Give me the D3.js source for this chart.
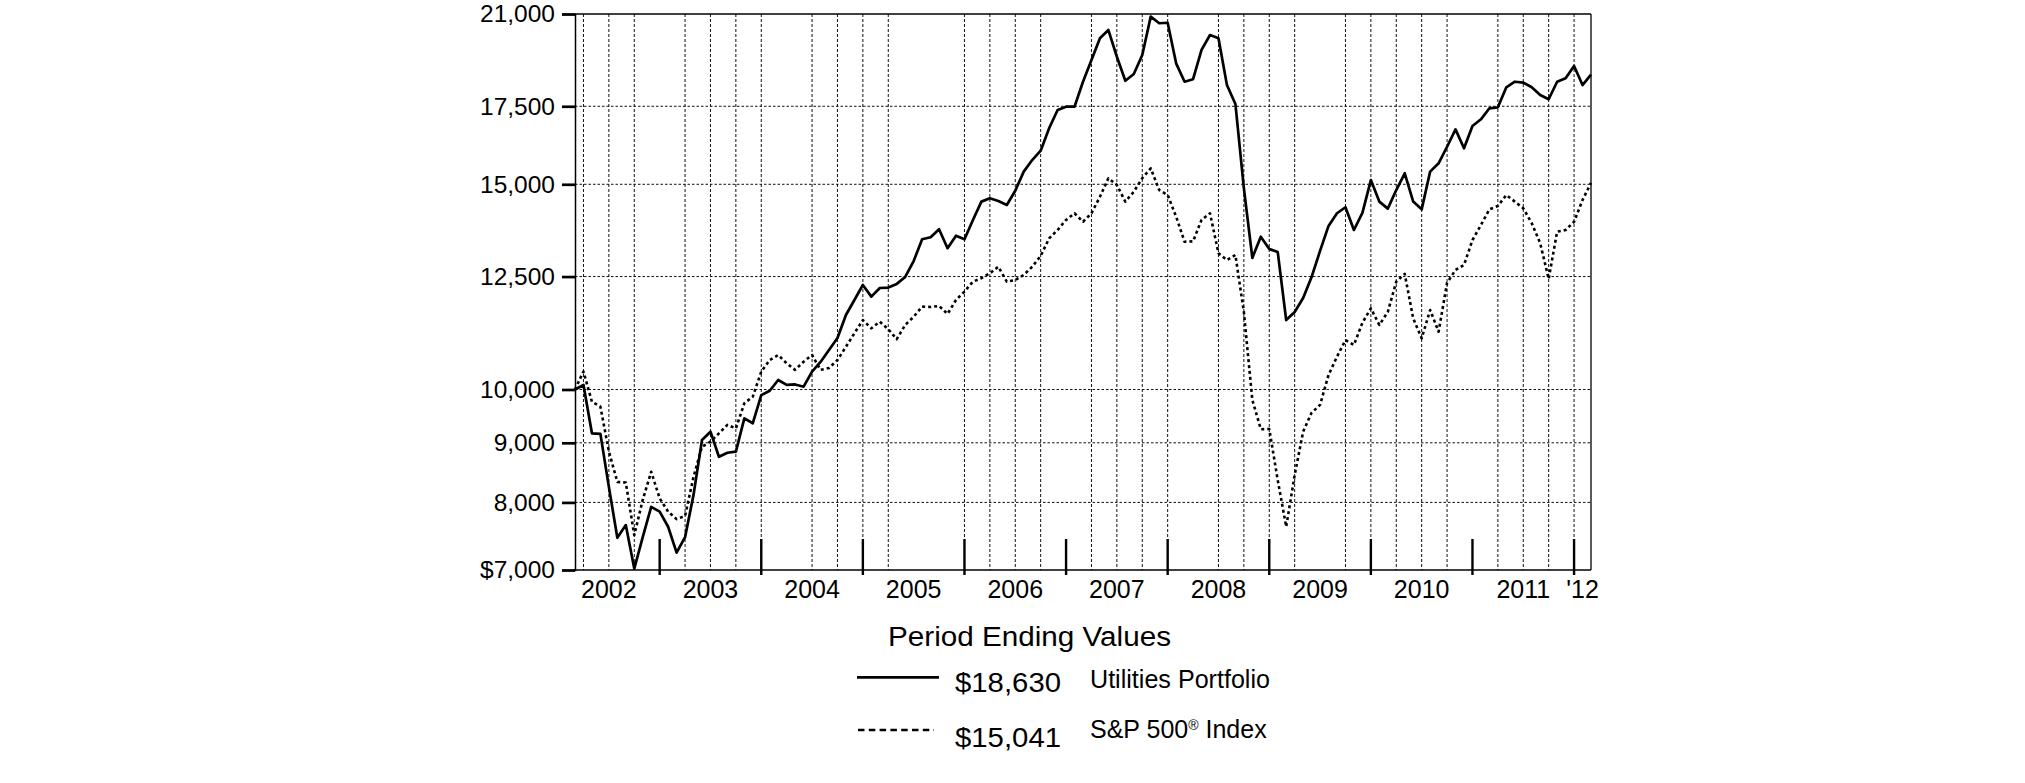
<!DOCTYPE html>
<html>
<head>
<meta charset="utf-8">
<script src="https://cdn.jsdelivr.net/npm/d3@7"></script>
<style>
  html, body { margin: 0; padding: 0; background: #fff; }
  svg { display: block; }
  text { font-family: "Liberation Sans", Arial, Helvetica, sans-serif; fill: #000; }
</style>
</head>
<body>
<svg id="chart" width="2025" height="783"></svg>
<script>
// ---- data (monthly, Feb 2002 .. Feb 2012, growth of $10,000) ----
const startMonth = "2002-02";
const utilities = [
  10000, 10090, 9170, 9160, 8250, 7460, 7650, 7020, 7470, 7930, 7855, 7625,
  7245, 7470, 8120, 9050, 9200, 8755, 8825, 8845, 9445, 9355, 9890, 9975,
  10190, 10090, 10100, 10055, 10360, 10560, 10810, 11070, 11585, 11935, 12295, 12015,
  12220, 12230, 12320, 12490, 12890, 13455, 13510, 13725, 13220, 13550, 13455, 13980,
  14495, 14590, 14515, 14400, 14810, 15380, 15735, 16030, 16755, 17370, 17485, 17490,
  18370, 19175, 20015, 20345, 19300, 18405, 18650, 19365, 20890, 20620, 20640, 19050,
  18370, 18460, 19560, 20145, 20015, 18250, 17580, 14890, 12970, 13525, 13200, 13120,
  11470, 11655, 11980, 12490, 13150, 13815, 14165, 14335, 13705, 14175, 15125, 14495,
  14295, 14830, 15330, 14495, 14275, 15380, 15635, 16155, 16720, 16105, 16830, 17055,
  17430, 17465, 18170, 18370, 18335, 18170, 17895, 17745, 18370, 18495, 18950, 18250,
  18630
];
const sp500 = [
  10000, 10360, 9760, 9665, 8850, 8330, 8320, 7500, 8040, 8500, 8065, 7855,
  7740, 7790, 8415, 8930, 9020, 9170, 9325, 9260, 9730, 9860, 10360, 10600,
  10705, 10530, 10395, 10565, 10705, 10395, 10435, 10600, 10880, 11175, 11470, 11285,
  11435, 11265, 11045, 11360, 11545, 11780, 11770, 11795, 11610, 11935, 12135, 12375,
  12460, 12580, 12745, 12375, 12415, 12540, 12745, 13020, 13480, 13705, 13980, 14165,
  13930, 14165, 14635, 15180, 14980, 14495, 14780, 15180, 15480, 14830, 14685, 14070,
  13390, 13400, 13980, 14165, 13090, 12915, 13045, 11655, 9795, 9245, 9250, 8360,
  7625, 8445, 9200, 9550, 9700, 10290, 10670, 11025, 10920, 11410, 11740, 11360,
  11655, 12375, 12565, 11510, 11065, 11700, 11210, 12345, 12665, 12790, 13435, 13840,
  14275, 14370, 14685, 14495, 14305, 13890, 13350, 12440, 13660, 13705, 13930, 14540,
  15041
];
const seriesNames = ["Utilities Portfolio", "S&P 500"];
const endValues = ["$18,630", "$15,041"];
const yTickValues = [7000, 8000, 9000, 10000, 12500, 15000, 17500, 21000];
const yGridValues = [8000, 9000, 10000, 12500, 15000, 17500];
const yearLabels = ["2002", "2003", "2004", "2005", "2006", "2007", "2008", "2009", "2010", "2011", "'12"];
const yearLabelMonths = ["2002-06", "2003-06", "2004-06", "2005-06", "2006-06", "2007-06", "2008-06", "2009-06", "2010-06", "2011-06", "2012-01"];
const yearEndMonths = ["2002-12", "2003-12", "2004-12", "2005-12", "2006-12", "2007-12", "2008-12", "2009-12", "2010-12", "2011-12"];
const gridMonths = [
  "2002-03", "2002-06", "2002-09", "2003-03", "2003-06", "2003-09", "2003-12",
  "2004-06", "2004-09", "2004-12", "2005-03", "2005-12",
  "2006-03", "2006-06", "2006-09", "2007-03", "2007-06", "2007-09", "2007-12",
  "2008-06", "2008-09", "2008-12", "2009-03", "2009-09", "2009-12",
  "2010-03", "2010-06", "2010-09", "2011-03", "2011-06", "2011-09", "2011-12"
];

// ---- helpers ----
const parseM = d3.utcParse("%Y-%m");
const t0 = parseM(startMonth);
const monthIndex = s => d3.utcMonth.count(t0, parseM(s));
const months = utilities.map((_, i) => d3.utcMonth.offset(t0, i));

// ---- layout ----
const L = 575, R = 1591, T = 14, B = 570;
const svg = d3.select("#chart");

const x = d3.scaleLinear().domain([0, utilities.length - 1]).range([L, R]);
const y = d3.scaleLog().domain([7000, 21000]).range([B, T]);

// gridlines
const g = svg.append("g");
g.selectAll("line.hg").data(yGridValues).join("line")
  .attr("x1", L).attr("x2", R)
  .attr("y1", d => y(d)).attr("y2", d => y(d))
  .attr("stroke", "#111").attr("stroke-width", 1).attr("stroke-dasharray", "2.5,2");
g.selectAll("line.vg").data(gridMonths).join("line")
  .attr("x1", d => x(monthIndex(d))).attr("x2", d => x(monthIndex(d)))
  .attr("y1", T).attr("y2", B)
  .attr("stroke", "#111").attr("stroke-width", 1).attr("stroke-dasharray", "3,2");

// frame
svg.append("line").attr("x1", L).attr("x2", R).attr("y1", T).attr("y2", T).attr("stroke", "#000").attr("stroke-width", 1.3);
svg.append("line").attr("x1", R).attr("x2", R).attr("y1", T).attr("y2", B).attr("stroke", "#000").attr("stroke-width", 1.3);

// left axis
const yAxis = d3.axisLeft(y).tickValues(yTickValues).tickSize(13).tickPadding(7)
  .tickFormat(d => (d === 7000 ? "$" : "") + d3.format(",")(d));
const ya = svg.append("g").attr("transform", `translate(${L},0)`).call(yAxis);
ya.select(".domain").attr("stroke-width", 1.5);
ya.selectAll(".tick line").attr("stroke-width", 2.7);
ya.selectAll(".tick text").attr("font-size", 24.5).attr("font-family", "Liberation Sans, Arial, sans-serif").attr("fill", "#000");

// bottom axis line
svg.append("line").attr("x1", L - 1).attr("x2", R).attr("y1", B).attr("y2", B).attr("stroke", "#000").attr("stroke-width", 1.5);

// year-end ticks
svg.selectAll("line.yt").data(yearEndMonths).join("line")
  .attr("x1", d => x(monthIndex(d))).attr("x2", d => x(monthIndex(d)))
  .attr("y1", B - 31).attr("y2", B + 5)
  .attr("stroke", "#000").attr("stroke-width", 2.4);

// year labels
svg.selectAll("text.yl").data(yearLabels).join("text")
  .attr("x", (d, i) => x(monthIndex(yearLabelMonths[i])))
  .attr("y", B + 28)
  .attr("text-anchor", "middle")
  .attr("font-size", 25)
  .text(d => d);

// lines
const line = d3.line().x((d, i) => x(i)).y(d => y(d)).curve(d3.curveLinear);
svg.append("path").datum(sp500).attr("d", line)
  .attr("fill", "none").attr("stroke", "#000").attr("stroke-width", 2.6)
  .attr("stroke-dasharray", "3,3").attr("stroke-linejoin", "round");
svg.append("path").datum(utilities).attr("d", line)
  .attr("fill", "none").attr("stroke", "#000").attr("stroke-width", 2.7)
  .attr("stroke-linejoin", "round");

// legend
const lg = svg.append("g");
lg.append("text").attr("x", 888).attr("y", 645.5).attr("font-size", 27)
  .attr("textLength", 283).attr("lengthAdjust", "spacingAndGlyphs")
  .text("Period Ending Values");

lg.append("line").attr("x1", 857).attr("x2", 939).attr("y1", 677.3).attr("y2", 677.3)
  .attr("stroke", "#000").attr("stroke-width", 2.7);
lg.append("text").attr("x", 955).attr("y", 692.3).attr("font-size", 27.5)
  .attr("textLength", 106).attr("lengthAdjust", "spacingAndGlyphs").text(endValues[0]);
lg.append("text").attr("x", 1090).attr("y", 688.3).attr("font-size", 25)
  .attr("textLength", 180).attr("lengthAdjust", "spacingAndGlyphs").text(seriesNames[0]);

lg.append("line").attr("x1", 858).attr("x2", 934).attr("y1", 730).attr("y2", 730)
  .attr("stroke", "#000").attr("stroke-width", 2.5).attr("stroke-dasharray", "6.5,4.3");
lg.append("text").attr("x", 955).attr("y", 747.3).attr("font-size", 27.5)
  .attr("textLength", 106).attr("lengthAdjust", "spacingAndGlyphs").text(endValues[1]);
const spText = lg.append("text").attr("x", 1090).attr("y", 738.3).attr("font-size", 25);
spText.append("tspan").text(seriesNames[1]);
spText.append("tspan").attr("font-size", 14).attr("dy", -8).text("®");
spText.append("tspan").attr("dy", 8).text(" Index");
</script>
</body>
</html>
